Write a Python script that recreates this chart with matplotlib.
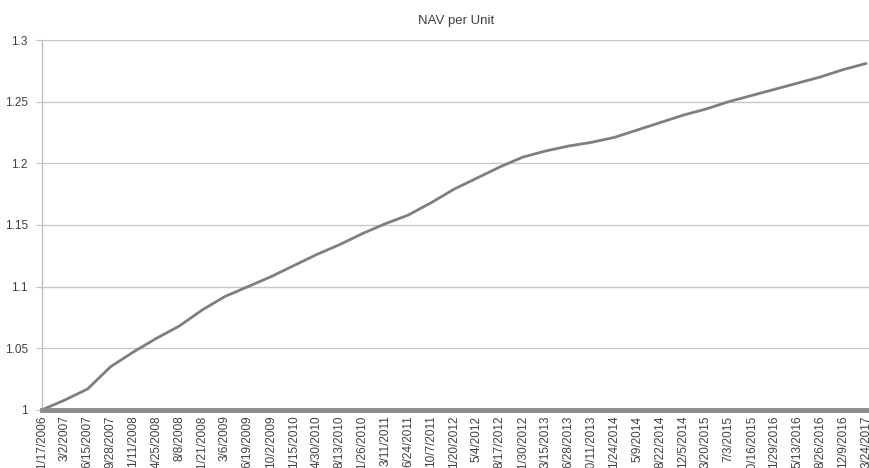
import matplotlib
matplotlib.use('Agg')
import matplotlib.pyplot as plt

# 每个刻度日期对应的单位净值
dates = ['11/17/2006', '3/2/2007', '6/15/2007', '9/28/2007', '1/11/2008', '4/25/2008',
         '8/8/2008', '11/21/2008', '3/6/2009', '6/19/2009', '10/2/2009', '1/15/2010',
         '4/30/2010', '8/13/2010', '11/26/2010', '3/11/2011', '6/24/2011', '10/7/2011',
         '1/20/2012', '5/4/2012', '8/17/2012', '11/30/2012', '3/15/2013', '6/28/2013',
         '10/11/2013', '1/24/2014', '5/9/2014', '8/22/2014', '12/5/2014', '3/20/2015',
         '7/3/2015', '10/16/2015', '1/29/2016', '5/13/2016', '8/26/2016', '12/9/2016',
         '3/24/2017']
nav = [1.000, 1.008, 1.017, 1.035, 1.047, 1.058,
       1.068, 1.081, 1.092, 1.100, 1.108, 1.117,
       1.126, 1.134, 1.143, 1.151, 1.158, 1.168,
       1.179, 1.188, 1.197, 1.205, 1.210, 1.214,
       1.217, 1.221, 1.227, 1.233, 1.239, 1.244,
       1.250, 1.255, 1.260, 1.265, 1.270, 1.276,
       1.281]
yticks = [1, 1.05, 1.1, 1.15, 1.2, 1.25, 1.3]
ylabels = ['1', '1.05', '1.1', '1.15', '1.2', '1.25', '1.3']

plt.rcParams['font.family'] = ['Liberation Sans', 'DejaVu Sans']

fig = plt.figure(figsize=(8.7, 4.68), dpi=100)
ax = fig.add_axes([0.048, 0.124, 0.952, 0.7905])

x = list(range(len(dates)))
ax.plot(x, nav, color='#7f7f7f', linewidth=2.0, solid_capstyle='round', zorder=3)

ax.set_ylim(1, 1.3)
ax.set_xlim(0, len(dates) - 1 + 0.17)
ax.set_yticks(yticks)
ax.set_yticklabels(ylabels, fontsize=8.5, color='#404040')
ax.set_xticks(x)
ax.set_xticklabels(dates, rotation=90, fontsize=8.5, color='#404040')

ax.yaxis.grid(True, color='#c8c8c8', linewidth=1.0)
ax.set_axisbelow(True)
ax.tick_params(axis='x', length=0, pad=4)
ax.tick_params(axis='y', length=4, color='#bfbfbf', pad=6)

for side in ['top', 'right']:
    ax.spines[side].set_visible(False)
ax.spines['left'].set_color('#bfbfbf')
ax.spines['left'].set_linewidth(1.0)
ax.spines['bottom'].set_color('#8c8c8c')
ax.spines['bottom'].set_linewidth(3.5)
ax.spines['bottom'].set_zorder(4)

fig.text(0.524, 0.955, 'NAV per Unit', ha='center', va='center', fontsize=9.5, color='#404040')

fig.savefig('out.png', dpi=100)
